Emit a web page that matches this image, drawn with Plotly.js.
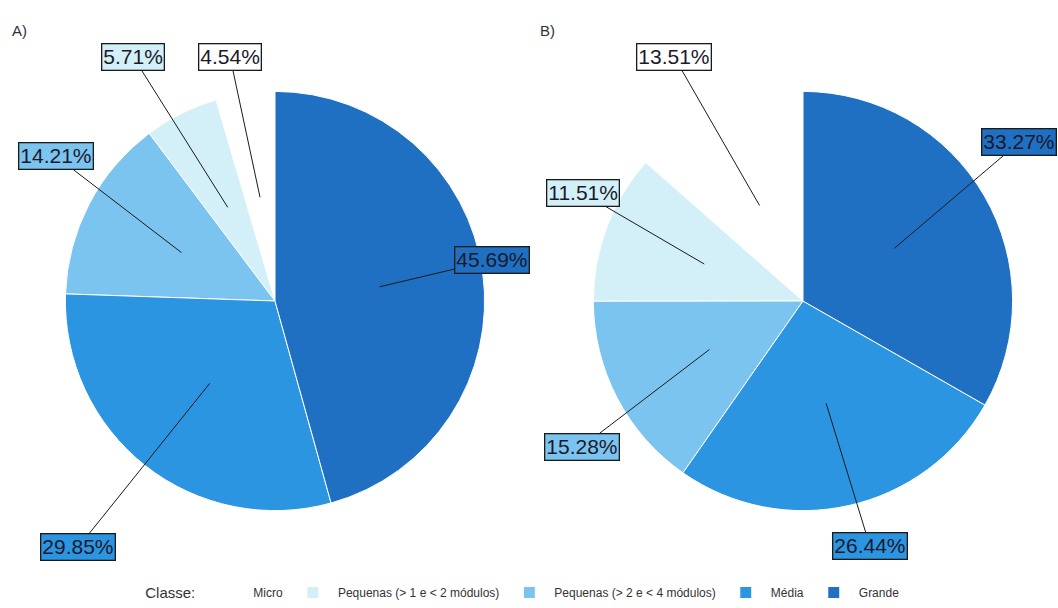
<!DOCTYPE html>
<html>
<head>
<meta charset="utf-8">
<script src="https://cdn.plot.ly/plotly-3.0.1.min.js"></script>
<style>html,body{margin:0;padding:0;background:#fff;}#chart{width:1058px;height:608px;}</style>
</head>
<body>
<div id="chart"></div>
<script>
// ---- data ----
const categories = ["Micro", "Pequenas (> 1 e < 2 módulos)", "Pequenas (> 2 e < 4 módulos)", "Média", "Grande"];
const valuesA = [4.54, 5.71, 14.21, 29.85, 45.69];
const valuesB = [13.51, 11.51, 15.28, 26.44, 33.27];
const panelTitles = ["A)", "B)"];
const legendTitle = "Classe:";

// ---- styles / layout ----
const colors = ["#ffffff", "#d3f0f8", "#7cc4f0", "#2c95e2", "#1f70c2"];
const W = 1058, H = 608;
const pies = [
  {cx: 275, cy: 303, R: 211},
  {cx: 803, cy: 303, R: 211}
];
// label box centres (px) for each slice, per panel
const labelPos = [
  [[230, 58], [133, 58], [56, 158], [78, 550], [492, 262]],
  [[674, 58], [583, 195], [582, 449], [870, 549], [1019, 144]]
];
const allValues = [valuesA, valuesB];
const FONT = 'Liberation Sans, Arial, sans-serif';

const traces = allValues.map((vals, i) => {
  const p = pies[i];
  const total = vals.reduce((a, b) => a + b, 0);
  return {
    type: 'pie',
    labels: categories,
    values: vals,
    sort: false,
    direction: 'counterclockwise',
    // Plotly ends the first slice at `rotation` in ccw mode; shift so it starts at 12 o'clock
    rotation: -360 * vals[0] / total,
    textinfo: 'none',
    hoverinfo: 'label+percent',
    marker: {colors: colors, line: {color: '#ffffff', width: 1}},
    domain: {
      x: [(p.cx - p.R) / W, (p.cx + p.R) / W],
      y: [(H - p.cy - p.R) / H, (H - p.cy + p.R) / H]
    },
    showlegend: i === 0
  };
});

const annotations = [];
allValues.forEach((vals, i) => {
  const p = pies[i];
  const total = vals.reduce((a, b) => a + b, 0);
  let cum = 0;
  vals.forEach((v, j) => {
    const th = 2 * Math.PI * (cum + v / 2) / total;
    cum += v;
    const r = 0.5 * p.R;
    const hx = p.cx - r * Math.sin(th);
    const hy = p.cy - r * Math.cos(th);
    const [lx, ly] = labelPos[i][j];
    annotations.push({
      xref: 'paper', yref: 'paper',
      x: hx / W, y: 1 - hy / H,
      ax: lx - hx, ay: ly - hy,
      text: v.toFixed(2) + '%',
      showarrow: true, arrowhead: 0, arrowwidth: 1, arrowcolor: '#1a1a1a',
      font: {family: FONT, size: 21, color: '#1a1a2a'},
      bgcolor: colors[j], bordercolor: '#1a1a1a', borderwidth: 1.3, borderpad: 1
    });
  });
});
annotations.push({xref: 'paper', yref: 'paper', x: 10 / W, y: 1 - 31 / H, xanchor: 'left', yanchor: 'middle',
  text: panelTitles[0], showarrow: false, font: {family: FONT, size: 15, color: '#333'}});
annotations.push({xref: 'paper', yref: 'paper', x: 538 / W, y: 1 - 31 / H, xanchor: 'left', yanchor: 'middle',
  text: panelTitles[1], showarrow: false, font: {family: FONT, size: 15, color: '#333'}});

const layout = {
  width: W, height: H,
  margin: {l: 0, r: 0, t: 0, b: 0},
  paper_bgcolor: '#ffffff',
  font: {family: FONT, color: '#333'},
  showlegend: true,
  legend: {
    orientation: 'h', x: 0.495, xanchor: 'center', y: 11 / H, yanchor: 'middle',
    title: {text: legendTitle, side: 'left', font: {size: 15, color: '#333'}},
    font: {size: 12, color: '#333'},
    itemwidth: 40
  },
  annotations: annotations
};

Plotly.newPlot('chart', traces, layout, {displayModeBar: false, staticPlot: true});
</script>
</body>
</html>
